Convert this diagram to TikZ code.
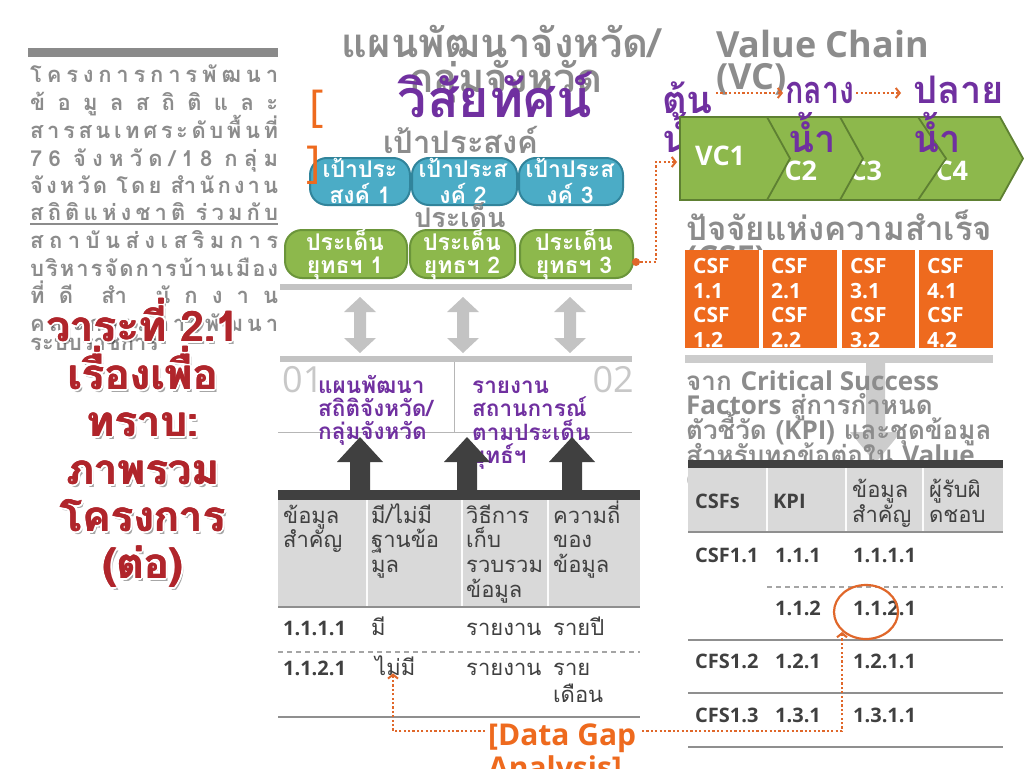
\documentclass[tikz,border=0pt]{standalone}
\usepackage{fontspec}
\usepackage{graphicx}
\setmainfont[Script=Thai]{Loma}
\newfontfamily\lat{Open Sans}
\usetikzlibrary{calc,shapes.geometric,arrows.meta}
\definecolor{tgray}{HTML}{8C8C8C}
\definecolor{pgray}{HTML}{8C8C8C}
\definecolor{bargray}{HTML}{8A8A8A}
\definecolor{purp}{HTML}{7030A0}
\definecolor{orng}{HTML}{EE6A1E}
\definecolor{dorng}{HTML}{E0672A}
\definecolor{bluef}{HTML}{4BACC6}
\definecolor{blued}{HTML}{31849B}
\definecolor{greenf}{HTML}{8DB84C}
\definecolor{greend}{HTML}{6B953A}
\definecolor{chevd}{HTML}{5E8032}
\definecolor{lgray}{HTML}{C3C3C3}
\definecolor{dgray}{HTML}{404040}
\definecolor{hdr}{HTML}{D9D9D9}
\definecolor{redt}{HTML}{B0252B}
\definecolor{numgray}{HTML}{C8C8C8}
\definecolor{rulec}{HTML}{8F8F8F}
\newcommand\hf{\hfill}
\newcommand\sg{\hskip 6pt plus 1fill}
\newcommand\jl[3]{\node[para] (#1) at (30,#2) {\hbox to 248pt{#3}};}
\newcommand\redl[3]{%
  \node[redtx, text=black, opacity=.35] at (145.5,#2+3) {#3};
  \foreach \a in {0,22.5,...,337.5}{\node[redtx, text=white] at ($(143,#2)+(\a:2.4)$) {#3};}
  \node[redtx] at (142.5,#2) {#3};
  \node[redtx] at (143.5,#2) {#3};
  \node[redtx] (#1) at (143,#2) {#3};}
\newcommand\vcchev[4]{\draw[chevst] (#1,117) -- (#2,117) -- (#3,158.5) -- (#2,200) -- (#1,200) -- (#1+#4,158.5) -- cycle;}
\tikzset{
 para/.style={font=\bfseries\fontsize{22}{25}\selectfont, text=pgray, inner sep=0, anchor=base west},
 redtx/.style={font=\bfseries\fontsize{42}{46}\selectfont, text=redt, inner sep=0, anchor=base},
 ttl/.style={font=\bfseries\fontsize{40}{44}\selectfont, text=tgray, inner sep=0, anchor=base},
 vis/.style={font=\bfseries\fontsize{52}{56}\selectfont, text=purp, inner sep=0, anchor=base},
 goalst/.style={font=\bfseries\fontsize{31}{34}\selectfont, text=tgray, inner sep=0, anchor=base},
 issuest/.style={font=\bfseries\fontsize{27}{30}\selectfont, text=tgray, inner sep=0, anchor=base},
 brk/.style={font=\lat\fontsize{44}{48}\selectfont, text=orng, inner sep=0, anchor=base west},
 bbox/.style={rounded corners=17, fill=bluef, draw=blued, line width=2, inner sep=0, minimum height=47},
 gbox/.style={rounded corners=17, fill=greenf, draw=greend, line width=2, inner sep=0, minimum height=48},
 boxtx/.style={font=\bfseries\fontsize{23}{26}\selectfont, text=white, inner sep=0, anchor=base},
 purtx/.style={font=\bfseries\fontsize{22.5}{24}\selectfont, text=purp, inner sep=0, anchor=base west},
 bignum/.style={font=\lat\fontsize{36}{40}\selectfont, text=numgray, inner sep=0},
 thd/.style={font=\fontsize{22}{24}\selectfont, text=dgray, inner sep=0, anchor=base west},
 tnum/.style={font=\lat\bfseries\fontsize{20}{24}\selectfont, text=dgray, inner sep=0, anchor=base west},
 vct/.style={font=\lat\bfseries\fontsize{27}{30}\selectfont, text=white, inner sep=0, anchor=base west},
 csft/.style={font=\lat\bfseries\fontsize{21}{24}\selectfont, text=white, inner sep=0, anchor=base west},
 vcp/.style={font=\bfseries\fontsize{38}{40}\selectfont, text=purp, inner sep=0, anchor=base west},
 vctitle/.style={font=\lat\bfseries\fontsize{36}{38}\selectfont, text=tgray, inner sep=0, anchor=base west},
 rtx/.style={font=\bfseries\fontsize{26}{28}\selectfont, text=tgray, inner sep=0, anchor=base west},
 csfh/.style={font=\bfseries\fontsize{33}{35}\selectfont, text=tgray, inner sep=0, anchor=base west},
 gap/.style={font=\lat\bfseries\fontsize{30}{33}\selectfont, text=orng, inner sep=0, anchor=base west},
 dotl/.style={draw=dorng, line width=2.2, dash pattern=on 2.2pt off 2.2pt},
 dotarr/.style={dotl, -{Straight Barb[length=4pt,width=10pt,line width=2pt]}},
 chevst/.style={fill=greenf, draw=chevd, line width=1.8, line join=miter},
 rulel/.style={draw=rulec, line width=1.5},
 dashl/.style={draw=rulec!80, line width=1.2, dash pattern=on 5pt off 4pt},
}
\begin{document}
\begin{tikzpicture}[x=1pt,y=-1pt]
\useasboundingbox (0,0) rectangle (1024,768);
\fill[white] (0,0) rectangle (1024,768);

% ---------- left column ----------
\fill[bargray] (28,48) rectangle (278,57);
\jl{p1}{82}{โ\hf ค\hf ร\hf ง\hf ก\hf า\hf ร\hf ก\hf า\hf ร\hf พั\hf ฒ\hf น\hf า}
\jl{p2}{110}{ข้\hf อ\hf มู\hf ล\hf ส\hf ถิ\hf ติ\hf แ\hf ล\hf ะ}
\jl{p3}{138}{ส\hf า\hf ร\hf ส\hf น\hf เ\hf ท\hf ศ\hf ร\hf ะ\hf ดั\hf บ\hf พื้\hf น\hf ที่}
\jl{p4}{166}{7\hf 6\sg จั\hf ง\hf ห\hf วั\hf ด\hf /\hf 1\hf 8\sg ก\hf ลุ่\hf ม}
\jl{p5}{193}{จั\hf ง\hf ห\hf วั\hf ด\sg โ\hf ด\hf ย\sg สำ\hf นั\hf ก\hf ง\hf า\hf น}
\jl{p6}{220}{ส\hf ถิ\hf ติ\hf แ\hf ห่\hf ง\hf ช\hf า\hf ติ\sg ร่\hf ว\hf ม\hf กั\hf บ}
\jl{p7}{248}{ส\hf ถ\hf า\hf บั\hf น\hf ส่\hf ง\hf เ\hf ส\hf ริ\hf ม\hf ก\hf า\hf ร}
\jl{p8}{276}{บ\hf ริ\hf ห\hf า\hf ร\hf จั\hf ด\hf ก\hf า\hf ร\hf บ้\hf า\hf น\hf เ\hf มื\hf อ\hf ง}
\jl{p9}{303}{ที่\hf ดี\hf\hf สำ\hf\hf นั\hf ก\hf ง\hf า\hf น}
\jl{p10}{331}{ค\hf ณ\hf ะ\hf ก\hf ร\hf ร\hf ม\hf ก\hf า\hf ร\hf พั\hf ฒ\hf น\hf า}
\node[para] (p11) at (30,350) {ระบบราชการ};
\draw[pgray, line width=1.2] (30,224) -- (278,224);

\redl{r1}{341}{วาระที่ 2.1}
\redl{r2}{389}{เรื่องเพื่อ}
\redl{r3}{436}{ทราบ:}
\redl{r4}{484}{ภาพรวม}
\redl{r5}{531}{โครงการ}
\redl{r6}{578}{(ต่อ)}

% ---------- middle column ----------
\node[ttl] (t1) at (501,58) {แผนพัฒนาจังหวัด/};
\node[ttl] (t2) at (506,92) {กลุ่มจังหวัด};
\node[vis] (vis) at (495,117) {วิสัยทัศน์};
\node[goalst] (goal) at (461,153) {เป้าประสงค์};

\node[bbox, minimum width=100] (b1) at (360,181.5) {};
\node[bbox, minimum width=105] (b2) at (464.5,181.5) {};
\node[bbox, minimum width=104] (b3) at (571,181.5) {};
\node[boxtx] (b1a) at (360,177) {เป้าประ};
\node[boxtx] (b1b) at (360,203) {สงค์ 1};
\node[boxtx] (b2a) at (463,177) {เป้าประส};
\node[boxtx] (b2b) at (463,203) {งค์ 2};
\node[boxtx] (b3a) at (570,177) {เป้าประส};
\node[boxtx] (b3b) at (570,203) {งค์ 3};
\node[brk] (bo) at (309,121) {[};
\node[brk] (bc) at (306,177) {]};

\node[issuest] (issue) at (460,227) {ประเด็น};
\node[gbox, minimum width=122] (g1) at (346,254) {};
\node[gbox, minimum width=105] (g2) at (462.5,254) {};
\node[gbox, minimum width=113] (g3) at (576.5,254) {};
\node[boxtx] (g1a) at (345,250) {ประเด็น};
\node[boxtx] (g1b) at (345,273) {ยุทธฯ 1};
\node[boxtx] (g2a) at (462,250) {ประเด็น};
\node[boxtx] (g2b) at (462,273) {ยุทธฯ 2};
\node[boxtx] (g3a) at (574,250) {ประเด็น};
\node[boxtx] (g3b) at (574,273) {ยุทธฯ 3};

\coordinate (dot) at (636,262);
\coordinate (vcin) at (677,162);
\fill[dorng] (dot) circle[radius=4pt];
\draw[dotarr] (dot) -- ++(20,0) |- (vcin);

\fill[lgray] (280,284) rectangle (632,290);
\foreach \x in {360,463,570}{
 \fill[lgray] (\x,297) -- ++(16,15) -- ++(-10,0) -- ++(0,26) -- ++(10,0) -- ++(-16,15) -- ++(-16,-15) -- ++(10,0) -- ++(0,-26) -- ++(-10,0) -- cycle;}
\fill[lgray] (280,356) rectangle (632,362);
\draw[lgray!80!gray, line width=1] (454,362) -- (454,432);
\draw[lgray!80!gray, line width=1] (278,432) -- (632,432);
\node[bignum, anchor=base west] (n01) at (282,392) {01};
\node[bignum, anchor=base east] (n02) at (634,392) {02};

\node[purtx] (m1) at (318,393) {แผนพัฒนา};
\node[purtx] (m2) at (318,416) {สถิติจังหวัด/};
\node[purtx] (m3) at (318,439) {กลุ่มจังหวัด};
\node[purtx] (m4) at (472,393) {รายงาน};
\node[purtx] (m5) at (472,416) {สถานการณ์};
\node[purtx] (m6) at (472,440) {ตามประเด็น};
\node[purtx] (m7) at (472,463) {ยุทธ์ฯ};

\foreach \x in {360,467,572}{
 \fill[dgray] (\x,437) -- ++(23,25) -- ++(-13,0) -- ++(0,30) -- ++(-20,0) -- ++(0,-30) -- ++(-13,0) -- cycle;}
\fill[dgray] (278,490) rectangle (640,500);

% left table
\fill[hdr] (278,500) rectangle (640,607);
\foreach \x in {367,462,548}{\draw[white!92!hdr, line width=1.5] (\x,500) -- (\x,607);}
\draw[rulel] (278,607) -- (640,607);
\node[thd] (h1a) at (283,523) {ข้อมูล};
\node[thd] (h1b) at (283,547) {สำคัญ};
\node[thd] (h2a) at (371,523) {มี/ไม่มี};
\node[thd] (h2b) at (371,547) {ฐานข้อ};
\node[thd] (h2c) at (371,572) {มูล};
\node[thd] (h3a) at (466,523) {วิธีการ};
\node[thd] (h3b) at (466,547) {เก็บ};
\node[thd] (h3c) at (466,572) {รวบรวม};
\node[thd] (h3d) at (466,597) {ข้อมูล};
\node[thd] (h4a) at (553,523) {ความถี่};
\node[thd] (h4b) at (553,547) {ของ};
\node[thd] (h4c) at (553,572) {ข้อมูล};
\node[tnum] (c11) at (283,635) {1.1.1.1};
\node[thd] (c12) at (371,635) {มี};
\node[thd] (c13) at (466,635) {รายงาน};
\node[thd] (c14) at (553,635) {รายปี};
\draw[dashl] (278,652) -- (640,652);
\node[tnum] (c21) at (283,675) {1.1.2.1};
\node[thd] (mimi) at (375,675) {ไม่มี};
\node[thd] (c23) at (466,675) {รายงาน};
\node[thd] (c24) at (553,675) {ราย};
\node[thd] (c25) at (553,702) {เดือน};
\draw[rulel] (278,717) -- (640,717);

% ---------- right column ----------
\node[vctitle] (vt1) at (716,57) {Value Chain};
\node[vctitle] (vt2) at (716,89) {(VC)};
\node[vcp] (ton) at (662,113) {ต้น};
\node[vcp] (ton2) at (662,152) {น้ำ};

\vcchev{905}{1000}{1023}{23}
\node[vct] (vc4) at (918,180) {VC4};
\vcchev{825}{918}{946}{23}
\node[vct] (vc3) at (832,180) {VC3};
\vcchev{745}{840}{863}{23}
\node[vct] (vc2) at (767,180) {VC2};
\vcchev{680}{767}{790}{0}
\node[vct] (vc1) at (695,165) {VC1};

\node[vcp] (klang) at (785,103) {\scalebox{0.8}[1]{กลาง}};
\node[vcp] (klang2) at (788,152) {น้ำ};
\node[vcp] (plai) at (913,103) {ปลาย};
\node[vcp] (plai2) at (913,152) {น้ำ};
\coordinate (arow) at (0,93);
\draw[dotarr, shorten <=3pt, shorten >=2pt] (ton.east |- arow) -- (klang.west |- arow);
\draw[dotarr, shorten <=2pt, shorten >=12pt] (klang.east |- arow) -- (plai.west |- arow);

\node[csfh] (csfh1) at (686,240) {ปัจจัยแห่งความสำเร็จ};
\node[csfh] (csfh2) at (686,269) {\lat (CSF)};

\fill[white] (685,250) rectangle (993,348);
\foreach \l/\r [count=\i] in {685/759,763/837,842/915,919/993}{
 \begin{scope}
 \clip (\l,250) rectangle (\r,348);
 \fill[orng] (\l,250) rectangle (\r,348);
 \node[csft] (cs\i a) at (\l+8,273) {CSF};
 \node[csft] (cs\i b) at (\l+8,298) {\i.1};
 \node[csft] (cs\i c) at (\l+8,322) {CSF};
 \node[csft] (cs\i d) at (\l+8,347) {\i.2};
 \end{scope}}
\fill[lgray!85!white] (685,355) rectangle (993,363);
\fill[lgray!85!white] (866,363) -- (885,363) -- (885,432) -- (901,432) -- (875.5,463) -- (850,432) -- (866,432) -- cycle;

\node[rtx] (k1) at (686,390) {จาก {\lat Critical Success}};
\node[rtx] (k2) at (686,414) {{\lat Factors} สู่การกำหนด};
\node[rtx] (k3) at (686,439) {ตัวชี้วัด ({\lat KPI}) และชุดข้อมูล};
\node[rtx] (k4) at (686,464) {สำหรับทุกข้อต่อใน {\lat Value}};
\node[rtx] (k5) at (686,489) {\lat Chain};

% right table
\fill[dgray] (688,460) rectangle (1003,468);
\fill[hdr] (688,468) rectangle (1003,532);
\foreach \x in {767,846,923}{\draw[white!92!hdr, line width=1.5] (\x,468) -- (\x,532);}
\draw[rulel] (688,532) -- (1003,532);
\node[tnum] (rh1) at (695,508) {CSFs};
\node[tnum] (rh2) at (773,508) {KPI};
\node[thd] (rh3a) at (852,497) {ข้อมูล};
\node[thd] (rh3b) at (852,522) {สำคัญ};
\node[thd] (rh4a) at (929,497) {ผู้รับผิ};
\node[thd] (rh4b) at (929,522) {ดชอบ};
\node[tnum] (ra1) at (695,562) {CSF1.1};
\node[tnum] (ra2) at (775,562) {1.1.1};
\node[tnum] (ra3) at (853,562) {1.1.1.1};
\draw[dashl] (767,587) -- (1003,587);
\node[tnum] (rb2) at (775,615) {1.1.2};
\node[tnum] (rb3) at (853,615) {1.1.2.1};
\draw[rulel] (688,640) -- (1003,640);
\node[tnum] (rc1) at (695,668) {CFS1.2};
\node[tnum] (rc2) at (775,668) {1.2.1};
\node[tnum] (rc3) at (853,668) {1.2.1.1};
\draw[rulel] (688,693) -- (1003,693);
\node[tnum] (rd1) at (695,722) {CFS1.3};
\node[tnum] (rd2) at (775,722) {1.3.1};
\node[tnum] (rd3) at (853,722) {1.3.1.1};
\draw[rulel] (688,747) -- (1003,747);
\node[draw=dorng, line width=2.2, ellipse, minimum width=64, minimum height=54, inner sep=0] (circ) at (866,612) {};
\coordinate (circhit) at (842,632);

% data gap
\node[gap] (dg) at (488,745) {[Data Gap};
\node[gap] (dg2) at (488,778) {Analysis]};
\coordinate (gl) at (485,731);
\coordinate (gr) at (642,731);
\draw[dotarr] (gl) -| ([yshift=2pt]mimi.south west -| 393,0);
\draw[dotarr] (gr) -| (circhit);
\end{tikzpicture}
\end{document}
